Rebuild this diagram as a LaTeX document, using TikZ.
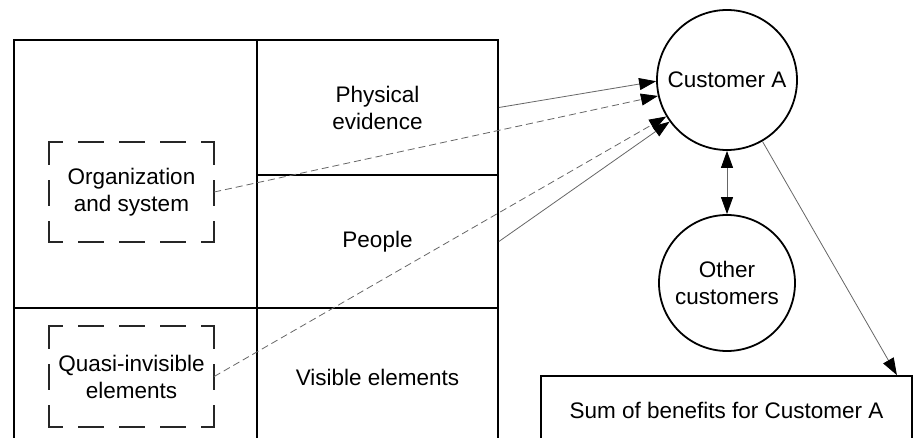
\documentclass[tikz,border=0pt]{standalone}
\usepackage{fontspec}
\setmainfont{Liberation Sans}
\usetikzlibrary{arrows.meta,calc}
\begin{document}
\begin{tikzpicture}[x=1pt,y=-1pt,
  font=\fontsize{22.5}{27}\selectfont,
  cell/.style={draw,line width=1.8pt,rectangle,inner sep=0pt,align=center},
  dnode/.style={rectangle,inner sep=0pt,align=center,minimum width=165pt,minimum height=100pt},
  dsideh/.style={line width=1.5pt,draw=black!85,line cap=rect,dash pattern=on 24pt off 17pt,dash phase=11pt},
  dsidev/.style={line width=1.5pt,draw=black!85,line cap=rect,dash pattern=on 24pt off 17pt,dash phase=2pt},
  ball/.style={circle,draw,line width=1.8pt,align=center,inner sep=0pt},
  tip/.style={},
  conn/.style={line width=0.8pt,draw=black!60,-{Triangle[length=17pt,width=12pt,black]}},
  dconn/.style={conn,dash pattern=on 7pt off 4pt},
  biconn/.style={line width=0.8pt,draw=black!60,{Triangle[length=17pt,width=12pt,black]}-{Triangle[length=17pt,width=12pt,black]}}]
\useasboundingbox (0,0) rectangle (916,438);
\clip (0,0) rectangle (916,438);
% grid cells
\node[cell,minimum width=243pt,minimum height=268pt] (cellA) at (135.5,174) {};
\node[cell,minimum width=243pt,minimum height=138pt] (cellB) at (135.5,377) {};
\node[cell,minimum width=241pt,minimum height=135pt] (phys) at (377.5,107.5) {Physical\\evidence};
\node[cell,minimum width=241pt,minimum height=133pt] (people) at (377.5,241.5) {People};
\node[cell,minimum width=241pt,minimum height=138pt] (visible) at (377.5,377) {Visible elements};
% dashed boxes
\node[dnode] (org) at (131.5,192) {Organization\\and system};
\node[dnode,minimum height=101pt] (quasi) at (131.5,376.5) {Quasi-invisible\\elements};
\foreach \b in {org,quasi}{
  \draw[dsideh] (\b.north west) -- (\b.north east);
  \draw[dsideh] (\b.south west) -- (\b.south east);
  \draw[dsidev] (\b.north west) -- (\b.south west);
  \draw[dsidev] (\b.north east) -- (\b.south east);
}
% circles
\node[ball,minimum size=140pt] (custA) at (727,80) {Customer A};
\node[ball,minimum size=136pt] (other) at (727,283) {Other\\customers};
% sum box
\node[cell,minimum width=371pt,minimum height=68pt] (sum) at (726.5,410) {Sum of benefits for Customer A};
\coordinate (sumin) at ($(sum.north east)+(-16,0)$);
% connectors
\draw[conn] (phys.east) -- (custA.181);
\draw[dconn] (org.east) -- (custA.193);
\draw[dconn] (quasi.east) -- (custA.211);
\draw[conn] (people.east) -- (custA.216);
\draw[biconn] (custA.south) -- (other.north);
\draw[conn] (custA.300) -- (sumin);
\end{tikzpicture}
\end{document}
